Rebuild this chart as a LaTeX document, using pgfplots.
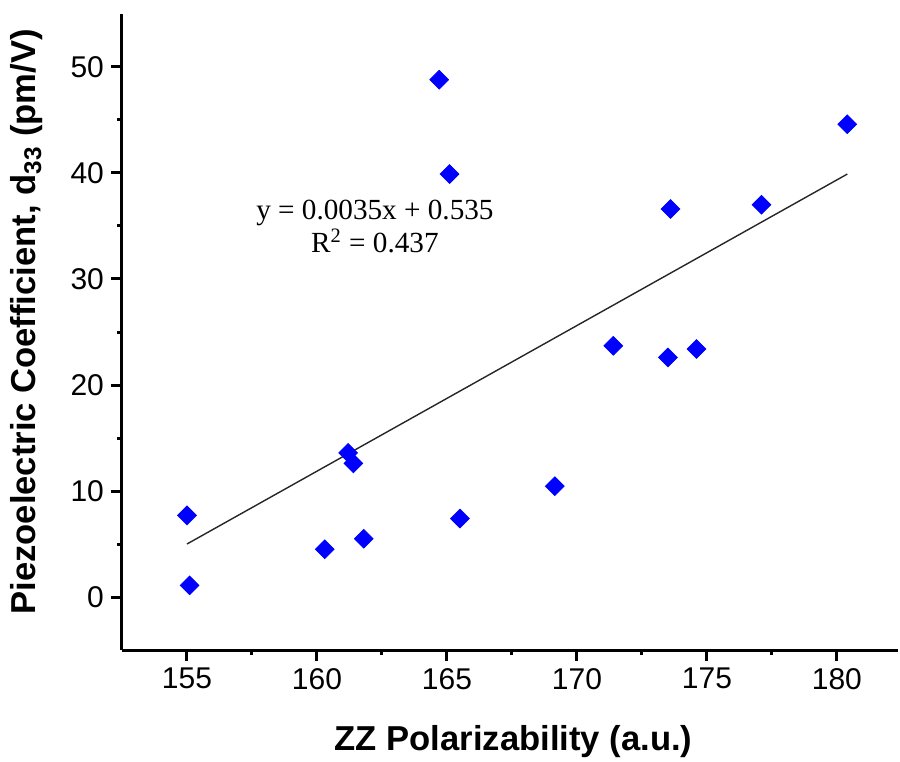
\documentclass[border=0pt]{standalone}
\usepackage{pgfplots}
\pgfplotsset{compat=1.18}
\usepackage{fontspec}
\setmainfont{Liberation Sans}
\newfontfamily\timesfont{Liberation Serif}
\begin{document}
\begin{tikzpicture}
\begin{axis}[
  at={(0,0)}, anchor=south west,
  scale only axis, width=388pt, height=318pt,
  xmin=152.5, xmax=182.35, ymin=-5, ymax=55,
  axis x line*=bottom, axis y line*=left,
  axis line style={line width=1.5pt, -},
  xtick={155,160,...,180}, minor x tick num=1,
  ytick={0,10,...,50}, minor y tick num=1,
  tick align=outside, major tick length=5.5pt, minor tick length=2.5pt,
  every tick/.style={black, line width=1.5pt},
  tick label style={font=\fontsize{15}{18}\selectfont},
  /pgf/number format/assume math mode=true,
  xlabel={ZZ Polarizability (a.u.)},
  ylabel={Piezoelectric Coefficient, d\textsubscript{33} (pm/V)},
  label style={font=\fontsize{17.3}{20}\selectfont\bfseries},
  xlabel style={at={(axis description cs:0.5045,-0.1447)}, anchor=center},
  ylabel style={at={(axis description cs:-0.1224,0.516)}, anchor=center},
  clip=false,
]
\addplot[black!85, line width=0.7pt] coordinates {(155,5.0) (180.4,39.9)};
\addplot[only marks, mark=square*, mark size=3.3pt,
  mark options={rotate=45, fill=blue, draw=blue}] coordinates {
  (155.0,7.7) (155.1,1.1) (160.3,4.5) (161.2,13.6) (161.4,12.6) (161.8,5.5)
  (164.7,48.8) (165.1,39.9) (165.5,7.4) (169.15,10.45) (171.4,23.7)
  (173.5,22.6) (173.6,36.6) (174.6,23.4) (177.1,37.0) (180.4,44.6)
};
\node[align=center, font=\timesfont\fontsize{14.6}{16.5}\selectfont]
  at (axis cs:162.23,34.93) {y = 0.0035x + 0.535\\R\textsuperscript{2} = 0.437};
\end{axis}
\pgfresetboundingbox
\path[use as bounding box] (-61pt,-55.5pt) rectangle (389pt,325pt);
\end{tikzpicture}
\end{document}
